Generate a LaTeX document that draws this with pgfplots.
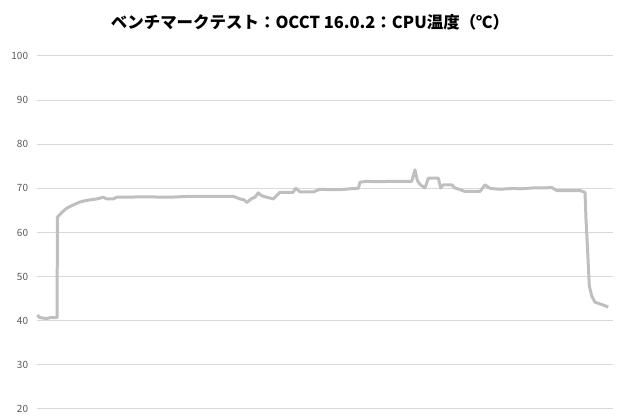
\documentclass[border=0pt]{standalone}
\usepackage{pgfplots}
\pgfplotsset{compat=1.18}
\usetikzlibrary{calc}
\usepackage{fontspec}
\setmainfont{Noto Sans CJK JP}
\definecolor{linegray}{HTML}{BFBFBF}
\definecolor{gridgray}{HTML}{D9D9D9}
\definecolor{ticktext}{HTML}{595959}

\begin{document}
\begin{tikzpicture}
\begin{axis}[
    scale only axis,
    width=432pt, height=264.75pt,
    xmin=37, xmax=613,
    ymin=20, ymax=100,
    ytick={20,30,...,100},
    xtick=\empty,
    ymajorgrids,
    grid style={gridgray, line width=0.75pt},
    axis line style={draw=none},
    major tick length=0pt,
    tick label style={font=\fontsize{7.5}{9}\selectfont, text=ticktext},
    yticklabel style={inner sep=0pt, xshift=-6.5pt},
    /pgf/number format/assume math mode=true,
    clip=false,
]
\addplot[linegray, line width=2.25pt, line join=round] table[x=px, y=t] {
px t
37.3 41.3
40 40.7
46.7 40.5
50 40.7
57 40.7
57.5 63.5
61.7 64.5
65 65.2
68.3 65.7
72 66.1
76.7 66.6
80 66.9
85 67.2
90 67.4
96.7 67.6
103.3 68.0
106.7 67.6
113.3 67.6
116.7 68.0
130 68.0
140 68.1
150 68.1
160 68.0
170 68.0
180 68.1
190 68.2
200 68.2
220 68.2
233.3 68.2
240 67.6
244 67.4
246.7 66.8
251.7 67.7
255 68.0
258.3 69.0
260 68.6
263.3 68.2
270 67.8
273.3 67.6
276 68.2
280 69.1
293 69.1
295.7 70.0
298 69.6
300 69.2
313.3 69.2
320 69.8
330 69.7
340 69.7
350 69.9
358.3 70.0
360 71.4
366.7 71.6
380 71.5
390 71.6
411.7 71.6
415 74.2
417.3 71.8
420 70.9
425 70.1
428.3 72.3
438.3 72.3
440.7 70.1
443.3 70.8
451.7 70.8
455 70.1
465 69.3
480 69.3
485 70.8
490 70.0
500 69.8
513.3 70.0
520 69.9
533.3 70.1
545 70.1
551.7 70.2
556.7 69.5
570 69.5
580 69.5
585 69.1
586 63.0
587.7 55.5
589.3 47.9
591.7 45.6
595 44.2
601.7 43.7
608.3 43.1
};
\coordinate (bl) at (rel axis cs:0,0);
\coordinate (tr) at (rel axis cs:1,1);
\end{axis}
\node[font=\bfseries\fontsize{12.35}{14}\selectfont, anchor=center]
    at ($(bl)!0.5!(tr)$) [yshift=157.9pt, xshift=-11.25pt] {ベンチマークテスト：OCCT 16.0.2：CPU温度（℃）};
\pgfresetboundingbox
\path ([xshift=-27.75pt, yshift=-8.25pt]bl) rectangle ([xshift=5.25pt, yshift=42pt]tr);
\end{tikzpicture}
\end{document}
